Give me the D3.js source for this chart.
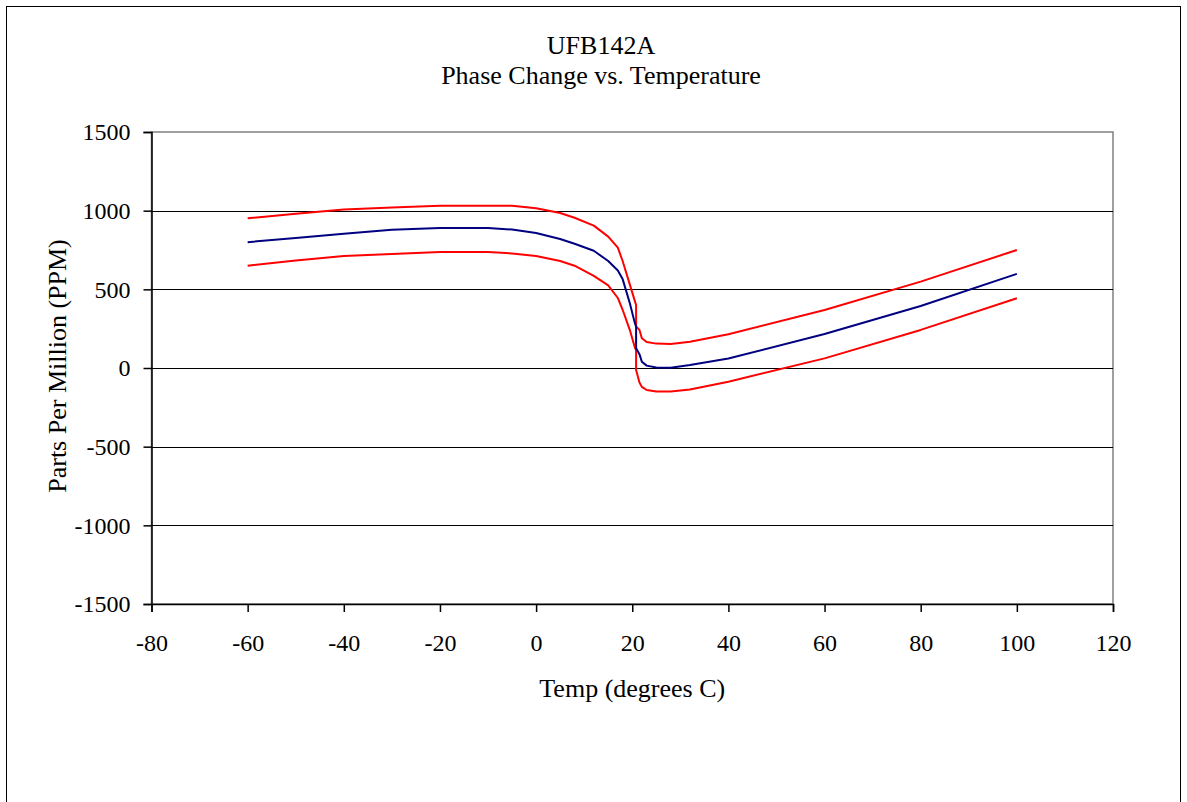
<!DOCTYPE html>
<html>
<head>
<meta charset="utf-8">
<script src="https://cdn.jsdelivr.net/npm/d3@7"></script>
<style>
	body { margin: 0; background: #fff; }
	text { font-family: "Liberation Serif", "Times New Roman", serif; fill: #000; }
</style>
</head>
<body>
<script>
// Temperatures (degrees C), shared by all three curves.
// 20.8 appears twice: the curves drop straight down there.
var temps = [-60, -50, -40, -30, -20, -10, -5, 0, 5, 8, 12, 15, 17, 18, 19.5, 20.5, 20.8, 20.8, 21.5, 22, 23, 25, 28, 32, 40, 60, 80, 100];

var upperPpm = [952, 980, 1008, 1020, 1032, 1032, 1032, 1015, 985, 955, 905, 835, 765, 680, 530, 430, 400, 265, 242, 189, 165, 155, 153, 167, 215, 369, 549, 750];
var nominalPpm = [800, 826, 853, 878, 890, 890, 880, 858, 820, 790, 745, 680, 620, 565, 411, 290, 263, 125, 88, 40, 15, 3, 2, 19, 60, 216, 394, 598];
var lowerPpm = [650, 683, 712, 725, 737, 737, 728, 712, 680, 650, 585, 525, 445, 370, 241, 135, 112, -13, -92, -120, -140, -150, -150, -136, -87, 61, 242, 443];

var xTicks = [-80, -60, -40, -20, 0, 20, 40, 60, 80, 100, 120];
var yTicks = [-1500, -1000, -500, 0, 500, 1000, 1500];

var width = 1187, height = 802;
var plot = {left: 151.5, top: 132, right: 1113, bottom: 604};

var svg = d3.select('body').append('svg')
	.attr('width', width)
	.attr('height', height);

// Outer chart frame.
svg.append('rect')
	.attr('x', 6.5).attr('y', 6.5)
	.attr('width', 1174).attr('height', 820)
	.attr('fill', 'none')
	.attr('stroke', '#000')
	.attr('stroke-width', 1);

var x = d3.scaleLinear().domain([-80, 120]).range([plot.left, plot.right]);
var y = d3.scaleLinear().domain([-1500, 1500]).range([plot.bottom, plot.top]);

// Plot area border (grey).
svg.append('rect')
	.attr('x', plot.left).attr('y', plot.top)
	.attr('width', plot.right - plot.left).attr('height', plot.bottom - plot.top)
	.attr('fill', 'none')
	.attr('stroke', '#808080')
	.attr('stroke-width', 1.5);

// Horizontal gridlines.
svg.append('g').selectAll('line')
	.data(yTicks.filter(function(d) { return d > -1500 && d < 1500; }))
	.enter().append('line')
	.attr('x1', plot.left).attr('x2', plot.right)
	.attr('y1', function(d) { return Math.round(y(d)) + 0.5; })
	.attr('y2', function(d) { return Math.round(y(d)) + 0.5; })
	.attr('stroke', '#000')
	.attr('stroke-width', 1);

// Plain hyphen for negatives, like the original.
var fmt = function(d) { return String(d); };

var yAxis = svg.append('g')
	.attr('transform', 'translate(' + plot.left + ',0)')
	.call(d3.axisLeft(y).tickValues(yTicks).tickSize(8).tickPadding(13).tickFormat(fmt));

var xAxis = svg.append('g')
	.attr('transform', 'translate(0,' + plot.bottom + ')')
	.call(d3.axisBottom(x).tickValues(xTicks).tickSize(8).tickPadding(22).tickFormat(fmt));

[xAxis, yAxis].forEach(function(ax) {
	ax.select('.domain').attr('stroke', '#000').attr('stroke-width', 1.5);
	ax.selectAll('.tick line').attr('stroke', '#000').attr('stroke-width', 1.5);
	ax.selectAll('text')
		.style('font-family', '"Liberation Serif", serif')
		.style('font-size', '24px')
		.attr('fill', '#000');
});

// Curves.
var line = d3.line()
	.x(function(d) { return x(d[0]); })
	.y(function(d) { return y(d[1]); });

var series = [
	{values: upperPpm, color: '#ff0000'},
	{values: lowerPpm, color: '#ff0000'},
	{values: nominalPpm, color: '#000080'}
];

series.forEach(function(s) {
	svg.append('path')
		.datum(d3.zip(temps, s.values))
		.attr('d', line)
		.attr('fill', 'none')
		.attr('stroke', s.color)
		.attr('stroke-width', 2)
		.attr('stroke-linejoin', 'round');
});

// Titles.
svg.append('text')
	.attr('x', 601).attr('y', 54)
	.attr('text-anchor', 'middle')
	.style('font-size', '26px')
	.text('UFB142A');
svg.append('text')
	.attr('x', 601).attr('y', 84)
	.attr('text-anchor', 'middle')
	.style('font-size', '26px')
	.text('Phase Change vs. Temperature');

svg.append('text')
	.attr('x', (plot.left + plot.right) / 2).attr('y', 697)
	.attr('text-anchor', 'middle')
	.style('font-size', '26px')
	.text('Temp (degrees C)');

svg.append('text')
	.attr('transform', 'translate(66,366) rotate(-90)')
	.attr('text-anchor', 'middle')
	.style('font-size', '26px')
	.text('Parts Per Million (PPM)');
</script>
</body>
</html>
